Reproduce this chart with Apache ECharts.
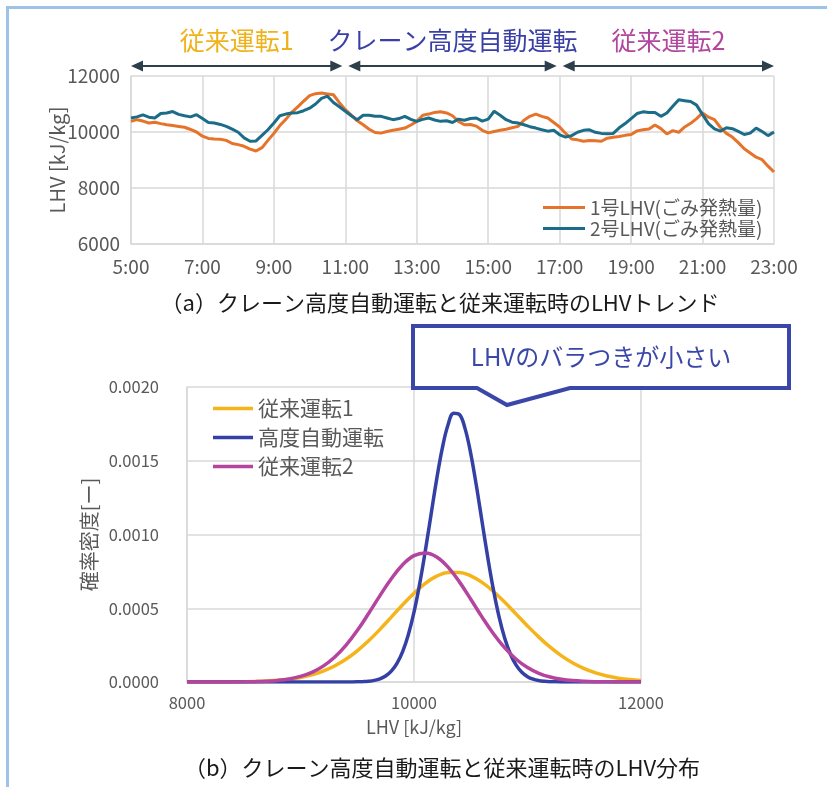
<!DOCTYPE html>
<html lang="ja">
<head>
<meta charset="utf-8">
<title>LHVトレンドと分布</title>
<script src="https://cdn.jsdelivr.net/npm/echarts/dist/echarts.min.js"></script>
<style>
html,body{margin:0;padding:0;background:#fff;}
#chart{width:827px;height:787px;}
</style>
</head>
<body>
<div id="chart"></div>
<script>
// ---- (a) LHV trend: 10-minute samples, 5:00 - 23:00 ----
const trendTimes = [];
for (let m = 5 * 60; m <= 23 * 60; m += 10) {
  trendTimes.push(Math.floor(m / 60) + ':' + String(m % 60).padStart(2, '0'));
}

// 1号 LHV [kJ/kg]
const unit1Lhv = [
  10380, 10440, 10390, 10320, 10350, 10300,
  10260, 10230, 10200, 10170, 10090, 10000,
  9850, 9770, 9750, 9740, 9700, 9590,
  9550, 9490, 9390, 9320, 9440, 9700,
  9950, 10230, 10450, 10700, 10900, 11100,
  11300, 11370, 11390, 11360, 11330, 11050,
  10800, 10600, 10400, 10260, 10100, 9980,
  9960, 10020, 10060, 10100, 10140, 10250,
  10380, 10600, 10640, 10700, 10720, 10680,
  10580, 10380, 10260, 10270, 10210, 10060,
  9970, 10020, 10060, 10100, 10150, 10200,
  10420, 10560, 10640, 10560, 10500, 10340,
  10180, 9950, 9750, 9720, 9670, 9700,
  9690, 9670, 9780, 9810, 9840, 9880,
  9910, 10040, 10080, 10110, 10250, 10120,
  9930, 10050, 9990, 10180, 10310, 10480,
  10680, 10530, 10440, 10160, 9950, 9820,
  9620, 9400, 9250, 9100, 9010, 8780,
  8570
];

// 2号 LHV [kJ/kg]
const unit2Lhv = [
  10500, 10540, 10610, 10530, 10500, 10660,
  10680, 10730, 10630, 10580, 10540, 10620,
  10480, 10340, 10320, 10270, 10200, 10100,
  9990, 9790, 9670, 9680, 9880, 10080,
  10320, 10580, 10640, 10680, 10690, 10760,
  10850, 11000, 11200, 11280, 11050, 10900,
  10740, 10580, 10440, 10600, 10600, 10560,
  10560, 10500, 10440, 10480, 10560, 10450,
  10380, 10450, 10500, 10430, 10380, 10400,
  10340, 10460, 10420, 10480, 10500, 10390,
  10460, 10740, 10600, 10440, 10350, 10320,
  10260, 10190, 10140, 10080, 10030, 10060,
  9900, 9820, 9870, 9990, 10060, 10080,
  9990, 9950, 9940, 9950, 10150, 10300,
  10480, 10660, 10720, 10700, 10700, 10560,
  10680, 10920, 11150, 11120, 11090, 10960,
  10620, 10300, 10110, 10030, 10150, 10120,
  10020, 9910, 9960, 10140, 10020, 9870,
  10000
];

const trendNames = ['1号LHV(ごみ発熱量)', '2号LHV(ごみ発熱量)'];
const trendColors = ['#E5742A', '#1B6C88'];

// operating periods shown above the trend
const sectionFrom = ['5:00', '11:00', '17:00'];
const sectionTo = ['11:00', '17:00', '23:00'];
const sectionLabels = ['従来運転1', 'クレーン高度自動運転', '従来運転2'];
const sectionColors = ['#F0B21A', '#3A3FA6', '#B2479E'];

// ---- (b) LHV distribution (probability density) ----
const densityLhv = [
  8000, 8100, 8200, 8300, 8400, 8500, 8600, 8700, 8800, 8900,
  9000, 9100, 9200, 9300, 9400, 9500, 9600, 9700, 9800, 9900,
  10000, 10100, 10200, 10300, 10400, 10500, 10600, 10700, 10800, 10900,
  11000, 11100, 11200, 11300, 11400, 11500, 11600, 11700, 11800, 11900,
  12000
];
const conv1Density = [
  0.0000000, 0.0000001, 0.0000002, 0.0000005, 0.0000010, 0.0000019, 0.0000035, 0.0000064, 0.0000112, 0.0000189,
  0.0000309, 0.0000487, 0.0000741, 0.0001087, 0.0001541, 0.0002112, 0.0002792, 0.0003566, 0.0004400, 0.0005236,
  0.0006022, 0.0006689, 0.0007173, 0.0007427, 0.0007430, 0.0007197, 0.0006753, 0.0006137, 0.0005401, 0.0004604,
  0.0003802, 0.0003043, 0.0002359, 0.0001770, 0.0001287, 0.0000906, 0.0000618, 0.0000408, 0.0000261, 0.0000162,
  0.0000097
];
const conv2Density = [
  0.0000000, 0.0000000, 0.0000001, 0.0000002, 0.0000005, 0.0000011, 0.0000025, 0.0000053, 0.0000108, 0.0000207,
  0.0000379, 0.0000656, 0.0001079, 0.0001682, 0.0002487, 0.0003487, 0.0004642, 0.0005854, 0.0007006, 0.0007954,
  0.0008565, 0.0008748, 0.0008475, 0.0007787, 0.0006788, 0.0005613, 0.0004400, 0.0003273, 0.0002310, 0.0001545,
  0.0000981, 0.0000591, 0.0000337, 0.0000183, 0.0000094, 0.0000046, 0.0000021, 0.0000009, 0.0000004, 0.0000002,
  0.0000001
];
const autoLhv = [
  8000, 8500, 9000, 9400, 9450, 9500, 9550, 9600, 9650, 9700, 9750, 9800,
  9850, 9900, 9950, 10000, 10050, 10100, 10150, 10200, 10250, 10300,
  10350, 10400, 10450, 10500, 10550, 10600, 10650, 10700, 10750, 10800,
  10850, 10900, 10950, 11000, 11050, 11100, 11150, 11200, 11250, 11300,
  11600, 12000
];
const autoDensity = [
  0.0000000, 0.0000000, 0.0000000, 0.0000002, 0.0000004, 0.0000010, 0.0000024, 0.0000052, 0.0000109, 0.0000217, 0.0000410, 0.0000739,
  0.0001266, 0.0002064, 0.0003206, 0.0004734, 0.0006656, 0.0008908, 0.0011346, 0.0013756, 0.0015873, 0.0017436,
  0.0018228, 0.0018139, 0.0017178, 0.0015487, 0.0013288, 0.0010854, 0.0008436, 0.0006242, 0.0004396, 0.0002946,
  0.0001880, 0.0001142, 0.0000660, 0.0000363, 0.0000190, 0.0000095, 0.0000045, 0.0000020, 0.0000009, 0.0000004,
  0.0000000, 0.0000000
];

const distNames = ['従来運転1', '高度自動運転', '従来運転2'];
const distColors = ['#F4B41A', '#3440A3', '#B4449E'];

const captionA = '（a）クレーン高度自動運転と従来運転時のLHVトレンド';
const captionB = '（b）クレーン高度自動運転と従来運転時のLHV分布';
const calloutText = 'LHVのバラつきが小さい';

// ---- chart ----
const FONT = "'Noto Sans CJK JP', 'Noto Sans', sans-serif";
const GRID_LINE = '#d9d9d9';
const AXIS_TEXT = '#595959';
const gridLine = { color: GRID_LINE, width: 1.5 };
const plainNumber = v => String(v);

const pairs = (xs, ys) => xs.map((x, i) => [x, ys[i]]);

const chart = echarts.init(document.getElementById('chart'), null, { renderer: 'canvas' });

const option = {
  animation: false,
  backgroundColor: '#ffffff',
  textStyle: { fontFamily: FONT },
  grid: [
    { left: 131, top: 76, width: 643, height: 168 },
    { left: 187, top: 387, width: 454, height: 295 }
  ],
  xAxis: [
    {
      type: 'category', gridIndex: 0, data: trendTimes, boundaryGap: false,
      axisLine: { lineStyle: gridLine },
      axisTick: { show: false },
      axisLabel: { interval: 11, color: AXIS_TEXT, fontSize: 19, margin: 13, fontFamily: FONT },
      splitLine: { show: true, interval: 11, lineStyle: gridLine }
    },
    {
      type: 'value', gridIndex: 1, min: 8000, max: 12000, interval: 2000,
      name: 'LHV [kJ/kg]', nameLocation: 'middle', nameGap: 36, nameMoveOverlap: false,
      nameTextStyle: { color: AXIS_TEXT, fontSize: 18, fontFamily: FONT },
      axisLine: { lineStyle: gridLine },
      axisTick: { show: false },
      axisLabel: { color: AXIS_TEXT, fontSize: 16.5, margin: 12, fontFamily: FONT, formatter: plainNumber },
      splitLine: { show: true, lineStyle: gridLine }
    }
  ],
  yAxis: [
    {
      type: 'value', gridIndex: 0, min: 6000, max: 12000, interval: 2000,
      name: 'LHV [kJ/kg]', nameLocation: 'middle', nameGap: 64, nameMoveOverlap: false,
      nameTextStyle: { color: AXIS_TEXT, fontSize: 20, fontFamily: FONT },
      axisLine: { show: true, lineStyle: gridLine },
      axisTick: { show: false },
      axisLabel: { color: AXIS_TEXT, fontSize: 19, margin: 11, fontFamily: FONT, formatter: plainNumber },
      splitLine: { show: true, lineStyle: gridLine }
    },
    {
      type: 'value', gridIndex: 1, min: 0, max: 0.002, interval: 0.0005,
      name: '確率密度[ー]', nameLocation: 'middle', nameGap: 88, nameMoveOverlap: false,
      nameTextStyle: { color: AXIS_TEXT, fontSize: 20, fontFamily: FONT },
      axisLine: { show: true, lineStyle: gridLine },
      axisTick: { show: false },
      axisLabel: { color: AXIS_TEXT, fontSize: 16.5, margin: 28, fontFamily: FONT,
        formatter: v => v.toFixed(4) },
      splitLine: { show: true, lineStyle: gridLine }
    }
  ],
  legend: [
    {
      data: trendNames, orient: 'vertical', left: 543, top: 197, padding: 0,
      itemGap: 0, itemWidth: 42, itemHeight: 3, icon: 'rect',
      textStyle: { fontSize: 19, lineHeight: 21, color: AXIS_TEXT, fontFamily: FONT }
    },
    {
      data: distNames, orient: 'vertical', left: 213, top: 396, padding: 0,
      itemGap: 4, itemWidth: 40, itemHeight: 3.5, icon: 'rect',
      textStyle: { fontSize: 21, lineHeight: 25, color: AXIS_TEXT, fontFamily: FONT }
    }
  ],
  series: [
    {
      name: trendNames[0], type: 'line', xAxisIndex: 0, yAxisIndex: 0,
      data: unit1Lhv, symbol: 'none',
      lineStyle: { width: 3, color: trendColors[0] }, itemStyle: { color: trendColors[0] }
    },
    {
      name: trendNames[1], type: 'line', xAxisIndex: 0, yAxisIndex: 0,
      data: unit2Lhv, symbol: 'none',
      lineStyle: { width: 3, color: trendColors[1] }, itemStyle: { color: trendColors[1] }
    },
    {
      name: distNames[0], type: 'line', xAxisIndex: 1, yAxisIndex: 1,
      data: pairs(densityLhv, conv1Density), symbol: 'none', smooth: 0.4,
      lineStyle: { width: 3.5, color: distColors[0] }, itemStyle: { color: distColors[0] }
    },
    {
      name: distNames[1], type: 'line', xAxisIndex: 1, yAxisIndex: 1,
      data: pairs(autoLhv, autoDensity), symbol: 'none', smooth: 0.4,
      lineStyle: { width: 3.5, color: distColors[1] }, itemStyle: { color: distColors[1] }
    },
    {
      name: distNames[2], type: 'line', xAxisIndex: 1, yAxisIndex: 1,
      data: pairs(densityLhv, conv2Density), symbol: 'none', smooth: 0.4,
      lineStyle: { width: 3.5, color: distColors[2] }, itemStyle: { color: distColors[2] }
    }
  ]
};

chart.setOption(option);

// ---- annotations placed from the axes ----
const gfx = [];

// page frame
gfx.push({
  type: 'rect', z: 100, silent: true,
  shape: { x: 7.5, y: 7.5, width: 900, height: 900 },
  style: { fill: 'none', stroke: '#9DC3E6', lineWidth: 3 }
});

// period arrows above the trend plot
const topEdge = chart.convertToPixel({ yAxisIndex: 0 }, 12000);
const arrowY = topEdge - 10;
const ARROW = '#2E3F4C';
const headLen = 12, headHalf = 5.5;
sectionLabels.forEach((label, i) => {
  let x0 = chart.convertToPixel({ xAxisIndex: 0 }, sectionFrom[i]);
  let x1 = chart.convertToPixel({ xAxisIndex: 0 }, sectionTo[i]);
  if (i > 0) x0 += 3;
  if (i < sectionLabels.length - 1) x1 -= 3;
  gfx.push({
    type: 'line', z: 100, silent: true,
    shape: { x1: x0 + headLen - 2, y1: arrowY, x2: x1 - headLen + 2, y2: arrowY },
    style: { stroke: ARROW, lineWidth: 2 }
  });
  gfx.push({
    type: 'polygon', z: 100, silent: true,
    shape: { points: [[x0, arrowY], [x0 + headLen, arrowY - headHalf], [x0 + headLen, arrowY + headHalf]] },
    style: { fill: ARROW }
  });
  gfx.push({
    type: 'polygon', z: 100, silent: true,
    shape: { points: [[x1, arrowY], [x1 - headLen, arrowY - headHalf], [x1 - headLen, arrowY + headHalf]] },
    style: { fill: ARROW }
  });
  gfx.push({
    type: 'text', z: 100, silent: true,
    x: (x0 + x1) / 2, y: arrowY - 26,
    style: {
      text: label, fill: sectionColors[i], fontSize: 25, fontFamily: FONT,
      align: 'center', verticalAlign: 'middle'
    }
  });
});

// captions
gfx.push({
  type: 'text', z: 100, silent: true, x: 440, y: 303,
  style: { text: captionA, fill: '#1a1a1a', fontSize: 22, fontFamily: FONT, align: 'center', verticalAlign: 'middle' }
});
gfx.push({
  type: 'text', z: 100, silent: true, x: 442, y: 768,
  style: { text: captionB, fill: '#1a1a1a', fontSize: 22, fontFamily: FONT, align: 'center', verticalAlign: 'middle' }
});

// callout pointing at the narrow distribution
const CALLOUT = '#3A47A8';
gfx.push({
  type: 'polygon', z: 100, silent: true,
  shape: { points: [[413, 326], [789, 326], [789, 388], [570, 388], [507, 405], [477, 388], [413, 388]] },
  style: { fill: '#ffffff', stroke: CALLOUT, lineWidth: 4, lineJoin: 'miter' }
});
gfx.push({
  type: 'text', z: 101, silent: true, x: 601, y: 357,
  style: { text: calloutText, fill: CALLOUT, fontSize: 24, fontFamily: FONT, align: 'center', verticalAlign: 'middle' }
});

chart.setOption({ graphic: gfx });
</script>
</body>
</html>
